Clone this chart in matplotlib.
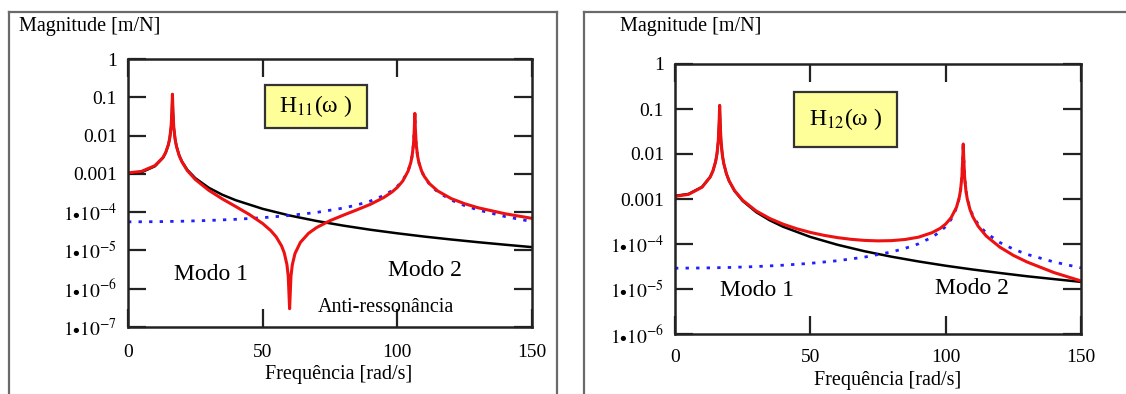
import numpy as np
import matplotlib
matplotlib.use("Agg")
import matplotlib.pyplot as plt
from matplotlib.lines import Line2D
from matplotlib.patches import Rectangle

plt.rcParams["font.family"] = ["Liberation Serif", "DejaVu Serif"]
plt.rcParams["mathtext.fontset"] = "stix"

# ---- H11 (ponto de excitacao) ----
w11_m1 = [0, 5, 10, 13, 14, 15, 15.5, 16, 16.3, 16.5, 16.7, 17, 17.5, 18, 19, 20, 22, 25,
          30, 35, 40, 50, 60, 70, 80, 90, 100, 110, 120, 130, 140, 150]
h11_m1 = [1.0e-3, 1.10e-3, 1.58e-3, 2.63e-3, 3.57e-3, 5.76e-3, 8.5e-3, 1.67e-2, 4.1e-2, 0.12,
          4.1e-2, 1.62e-2, 8.0e-3, 5.26e-3, 3.06e-3, 2.13e-3, 1.28e-3, 7.71e-4,
          4.33e-4, 2.85e-4, 2.05e-4, 1.22e-4, 8.17e-5, 5.88e-5, 4.44e-5, 3.47e-5,
          2.80e-5, 2.30e-5, 1.93e-5, 1.64e-5, 1.41e-5, 1.22e-5]

w11_m2 = [0, 10, 20, 30, 40, 50, 60, 70, 80, 85, 90, 95, 98, 100, 102, 104, 105, 105.5,
          106, 106.3, 106.5, 106.7, 107, 107.5, 108, 109, 110, 112, 115, 120, 125, 130, 140, 150]
h11_m2 = [5.58e-5, 5.63e-5, 5.79e-5, 6.06e-5, 6.50e-5, 7.16e-5, 8.18e-5, 9.83e-5, 1.28e-4,
          1.54e-4, 1.95e-4, 2.73e-4, 3.64e-4, 4.72e-4, 6.75e-4, 1.20e-3, 2.0e-3, 2.99e-3,
          5.97e-3, 1.5e-2, 3.8e-2, 1.48e-2, 5.92e-3, 2.95e-3, 1.97e-3, 1.17e-3, 8.35e-4,
          5.27e-4, 3.36e-4, 2.07e-4, 1.48e-4, 1.14e-4, 7.67e-5, 5.67e-5]

w11_tot = [0, 5, 10, 13, 14, 15, 15.5, 16, 16.3, 16.5, 16.7, 17, 17.5, 18, 19, 20, 22, 25,
           30, 35, 40, 45, 50, 53, 55, 57, 58, 59, 59.5, 60, 60.5, 61, 62, 64, 67, 70, 75,
           80, 85, 90, 95, 98, 100, 102, 104, 105, 105.5, 106, 106.3, 106.5, 106.7, 107,
           107.5, 108, 109, 110, 112, 115, 120, 125, 130, 140, 150]
h11_tot = [1.06e-3, 1.16e-3, 1.64e-3, 2.69e-3, 3.63e-3, 5.82e-3, 8.56e-3, 1.68e-2, 4.1e-2,
           0.12, 4.1e-2, 1.61e-2, 7.94e-3, 5.20e-3, 3.00e-3, 2.07e-3, 1.22e-3, 7.12e-4,
           3.72e-4, 2.22e-4, 1.40e-4, 8.73e-5, 5.04e-5, 3.30e-5, 2.27e-5, 1.32e-5, 8.7e-6,
           4.3e-6, 2.1e-6, 3.0e-7, 2.1e-6, 4.2e-6, 8.3e-6, 1.62e-5, 2.79e-5, 3.95e-5,
           5.99e-5, 8.36e-5, 1.15e-4, 1.60e-4, 2.42e-4, 3.35e-4, 4.44e-4, 6.48e-4, 1.18e-3,
           1.97e-3, 2.97e-3, 5.94e-3, 1.5e-2, 3.8e-2, 1.48e-2, 5.95e-3, 2.97e-3, 1.99e-3,
           1.19e-3, 8.58e-4, 5.49e-4, 3.57e-4, 2.26e-4, 1.66e-4, 1.30e-4, 9.08e-5, 6.89e-5]

# ---- H12 (transferencia) ----
w12_m1 = w11_m1
h12_m1 = [1.175e-3, 1.294e-3, 1.858e-3, 3.10e-3, 4.20e-3, 6.77e-3, 1.0e-2, 1.97e-2, 4.88e-2,
          0.12, 4.82e-2, 1.91e-2, 9.41e-3, 6.18e-3, 3.61e-3, 2.50e-3, 1.51e-3, 9.07e-4,
          5.10e-4, 3.36e-4, 2.41e-4, 1.436e-4, 9.62e-5, 6.91e-5, 5.22e-5, 4.09e-5,
          3.29e-5, 2.71e-5, 2.27e-5, 1.92e-5, 1.66e-5, 1.44e-5]

w12_m2 = w11_m2
h12_m2 = [2.90e-5, 2.93e-5, 3.01e-5, 3.15e-5, 3.38e-5, 3.72e-5, 4.25e-5, 5.11e-5, 6.66e-5,
          8.0e-5, 1.01e-4, 1.42e-4, 1.89e-4, 2.45e-4, 3.51e-4, 6.25e-4, 1.04e-3, 1.55e-3,
          3.10e-3, 7.8e-3, 1.67e-2, 7.7e-3, 3.08e-3, 1.53e-3, 1.02e-3, 6.1e-4, 4.34e-4,
          2.74e-4, 1.75e-4, 1.08e-4, 7.7e-5, 5.9e-5, 3.99e-5, 2.95e-5]

w12_tot = [0, 5, 10, 13, 14, 15, 15.5, 16, 16.3, 16.5, 16.7, 17, 17.5, 18, 19, 20, 22, 25,
           30, 35, 40, 45, 50, 55, 60, 65, 70, 75, 80, 85, 90, 95, 98, 100, 102, 104, 105,
           105.5, 106, 106.3, 106.5, 106.7, 107, 107.5, 108, 109, 110, 112, 115, 120, 125,
           130, 140, 150]
h12_tot = [1.146e-3, 1.265e-3, 1.829e-3, 3.07e-3, 4.17e-3, 6.74e-3, 9.97e-3, 1.97e-2, 4.88e-2,
           0.12, 4.82e-2, 1.91e-2, 9.44e-3, 6.21e-3, 3.64e-3, 2.53e-3, 1.54e-3, 9.38e-4,
           5.42e-4, 3.69e-4, 2.75e-4, 2.18e-4, 1.81e-4, 1.56e-4, 1.387e-4, 1.272e-4,
           1.202e-4, 1.173e-4, 1.188e-4, 1.26e-4, 1.42e-4, 1.79e-4, 2.23e-4, 2.78e-4,
           3.83e-4, 6.55e-4, 1.07e-3, 1.58e-3, 3.13e-3, 7.83e-3, 1.67e-2, 7.67e-3, 3.05e-3,
           1.50e-3, 9.9e-4, 5.82e-4, 4.07e-4, 2.48e-4, 1.50e-4, 8.53e-5, 5.60e-5, 4.0e-5,
           2.32e-5, 1.51e-5]

xticks = [0, 50, 100, 150]
yticks_11 = [1, 0.1, 0.01, 0.001, 1e-4, 1e-5, 1e-6, 1e-7]
yticks_12 = [1, 0.1, 0.01, 0.001, 1e-4, 1e-5, 1e-6]
ylabels = {1: "1", 0.1: "0.1", 0.01: "0.01", 0.001: "0.001",
           1e-4: r"$1{\bullet}10^{-4}$", 1e-5: r"$1{\bullet}10^{-5}$",
           1e-6: r"$1{\bullet}10^{-6}$", 1e-7: r"$1{\bullet}10^{-7}$"}

W, H = 1126, 394
fig = plt.figure(figsize=(W / 100, H / 100), dpi=100)


def fx(px):
    return px / W


def fy(py):
    return 1 - py / H


# molduras cinzas em volta de cada grafico
frame_kw = dict(color="#6a6a6a", lw=1.6, transform=fig.transFigure)
for x0, x1 in [(9, 557), (584, 1130)]:
    fig.add_artist(Line2D([fx(x0), fx(x0)], [fy(400), fy(12)], **frame_kw))
    fig.add_artist(Line2D([fx(x0), fx(x1)], [fy(12), fy(12)], **frame_kw))
    fig.add_artist(Line2D([fx(x1), fx(x1)], [fy(12), fy(400)], **frame_kw))


def painel(box, yticks, ylim, curvas, caixa, titulo, textos, lab_pos, mag_x, xpad):
    l, t, r, b = box
    ax = fig.add_axes([fx(l), fy(b), fx(r) - fx(l), fy(t) - fy(b)])
    ax.set_yscale("log")
    for w, h, kw in curvas:
        ax.plot(w, h, **kw)
    ax.set_xlim(0, 150)
    ax.set_ylim(*ylim)
    ax.set_xticks(xticks)
    ax.set_xticklabels([str(v) for v in xticks])
    ax.set_yticks(yticks)
    ax.set_yticklabels([ylabels[v] for v in yticks])
    ax.minorticks_off()
    ax.tick_params(direction="in", length=13, width=1.6, top=True, right=True,
                   labelsize=14, color="#222222", pad=8)
    ax.tick_params(axis="x", pad=xpad)
    for s in ax.spines.values():
        s.set_linewidth(1.8)
        s.set_color("#222222")
    # caixa do H(w)
    bx0, by0, bx1, by1 = caixa
    fig.add_artist(Rectangle((fx(bx0), fy(by1)), fx(bx1) - fx(bx0), fy(by0) - fy(by1),
                             transform=fig.transFigure, facecolor="#ffff99",
                             edgecolor="#333333", lw=1.6, zorder=5))
    fig.text(fx((bx0 + bx1) / 2), fy((by0 + by1) / 2), titulo, ha="center", va="center",
             fontsize=17, zorder=6)
    for txt, px, py, fs in textos:
        fig.text(fx(px), fy(py), txt, ha="center", va="center", fontsize=fs)
    fig.text(fx(mag_x), fy(27), "Magnitude [m/N]", ha="left", va="center", fontsize=14.5)
    fig.text(fx(lab_pos[0]), fy(lab_pos[1]), "Frequência [rad/s]", ha="center",
             va="center", fontsize=14.5)
    return ax


estilo_m1 = dict(color="black", lw=1.8)
estilo_m2 = dict(color="#1f1fff", lw=2.0, ls=(0, (1.2, 2.6)))
estilo_tot = dict(color="#ee1111", lw=2.2)

painel((128, 59, 532, 327), yticks_11, (1e-7, 1),
       [(w11_m1, h11_m1, estilo_m1), (w11_m2, h11_m2, estilo_m2), (w11_tot, h11_tot, estilo_tot)],
       (265, 85, 367, 128), r"H$_{11}$(ω )",
       [("Modo 1", 211, 274, 17), ("Modo 2", 425, 271, 17), ("Anti-ressonância", 386, 307, 14.5)],
       (339, 374), 19, 12)

painel((675, 64, 1081, 334), yticks_12, (1e-6, 1),
       [(w12_m1, h12_m1, estilo_m1), (w12_m2, h12_m2, estilo_m2), (w12_tot, h12_tot, estilo_tot)],
       (794, 92, 897, 147), r"H$_{12}$(ω )",
       [("Modo 1", 757, 291, 17), ("Modo 2", 972, 289, 17)],
       (888, 381), 620, 11)

fig.savefig("out.png", dpi=100)
